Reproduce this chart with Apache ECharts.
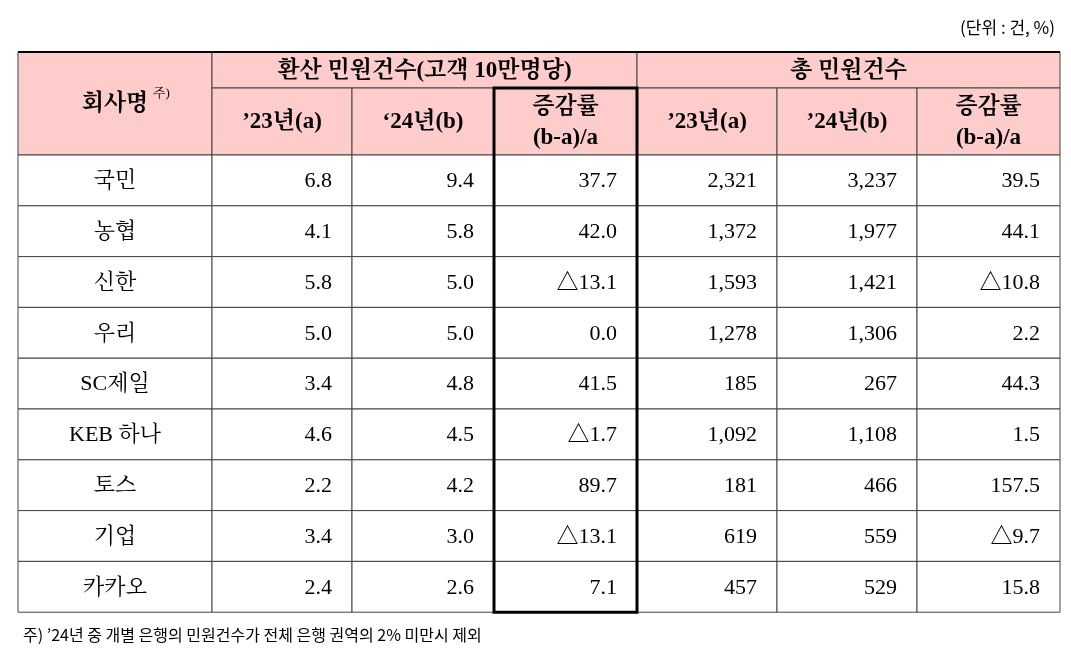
<!DOCTYPE html><html><head><meta charset="utf-8">
<script src="https://cdn.jsdelivr.net/npm/echarts@6/dist/echarts.min.js"></script>
<style>html,body{margin:0;padding:0;background:#fff}#c{width:1071px;height:648px}</style></head><body><div id="c"></div>
<script>
const companies=['국민','농협','신한','우리','SC제일','KEB 하나','토스','기업','카카오'];
const conv23=['6.8','4.1','5.8','5.0','3.4','4.6','2.2','3.4','2.4'];
const conv24=['9.4','5.8','5.0','5.0','4.8','4.5','4.2','3.0','2.6'];
const convRate=['37.7','42.0','△13.1','0.0','41.5','△1.7','89.7','△13.1','7.1'];
const tot23=['2,321','1,372','1,593','1,278','185','1,092','181','619','457'];
const tot24=['3,237','1,977','1,421','1,306','267','1,108','466','559','529'];
const totRate=['39.5','44.1','△10.8','2.2','44.3','1.5','157.5','△9.7','15.8'];
const headGroup=['환산 민원건수(고객 10만명당)','총 민원건수'];
const headSub=["’23년(a)","‘24년(b)",'증감률\n(b-a)/a',"’23년(a)","’24년(b)",'증감률\n(b-a)/a'];

const colEdges=[18,212,352,494,637,777,917,1060];
const hdr=[52,88,155];
const rowH=50.8;
const rowEdge=i=>hdr[2]+i*rowH;
const cols=[conv23,conv24,convRate,tot23,tot24,totRate];
const cells=[];
const pink='#ffcccc';
cells.push({x0:colEdges[0],x1:colEdges[1],y0:hdr[0],y1:hdr[2],t:'회사명',bg:pink,b:1,al:'center',sup:1});
cells.push({x0:colEdges[1],x1:colEdges[4],y0:hdr[0],y1:hdr[1],t:headGroup[0],bg:pink,b:1,al:'center'});
cells.push({x0:colEdges[4],x1:colEdges[7],y0:hdr[0],y1:hdr[1],t:headGroup[1],bg:pink,b:1,al:'center'});
headSub.forEach((h,j)=>cells.push({x0:colEdges[j+1],x1:colEdges[j+2],y0:hdr[1],y1:hdr[2],t:h,bg:pink,b:1,al:'center'}));
companies.forEach((c,i)=>{
  cells.push({x0:colEdges[0],x1:colEdges[1],y0:rowEdge(i),y1:rowEdge(i+1),t:c,bg:'#fff',b:0,al:'center'});
  cols.forEach((arr,j)=>cells.push({x0:colEdges[j+1],x1:colEdges[j+2],y0:rowEdge(i),y1:rowEdge(i+1),t:arr[i],bg:'#fff',b:0,al:'right'}));
});
const data=cells.map(c=>[c.x0,c.x1,c.y0,c.y1]);
const font='"Liberation Serif","Noto Serif CJK KR","Noto Sans CJK KR",serif';
const chart=echarts.init(document.getElementById('c'));
chart.setOption({
  animation:false,
  title:[{text:'(단위 : 건, %)',right:11,top:14,textStyle:{fontSize:17,fontWeight:'normal',color:'#000',fontFamily:'"Noto Sans CJK KR"'}},
         {text:"주) ’24년 중 개별 은행의 민원건수가 전체 은행 권역의 2% 미만시 제외",left:18,top:622,textStyle:{fontSize:16,fontWeight:'normal',color:'#000',fontFamily:'"Noto Sans CJK KR"'}}],
  grid:{left:0,right:0,top:0,bottom:0},
  xAxis:{type:'value',min:0,max:1071,show:false},
  yAxis:{type:'value',min:0,max:648,inverse:true,show:false},
  series:[{type:'custom',data:data,renderItem:(p,api)=>{
    const c=cells[p.dataIndex];
    const a=api.coord([c.x0,c.y0]),b=api.coord([c.x1,c.y1]);
    const ch=[{type:'rect',shape:{x:a[0],y:a[1],width:b[0]-a[0],height:b[1]-a[1]},style:{fill:c.bg,stroke:'#444',lineWidth:1}}];
    const tx=c.al==='center'?(a[0]+b[0])/2:b[0]-20;
    ch.push({type:'text',style:{x:tx,y:(a[1]+b[1])/2+1,text:c.t,align:c.al,verticalAlign:'middle',fontSize:c.b?23:22,lineHeight:31,fontWeight:c.b?'bold':'normal',fill:'#000',fontFamily:font}});
    if(c.sup) ch.push({type:'text',style:{x:tx+38,y:(a[1]+b[1])/2-10,text:'주)',align:'left',verticalAlign:'middle',fontSize:13,fill:'#000',fontFamily:font}});
    return {type:'group',children:ch};
  }},
  {type:'custom',data:[[colEdges[3],colEdges[4],hdr[1],rowEdge(9)]],z:5,renderItem:(p,api)=>{
    const a=api.coord([api.value(0),api.value(2)]),b=api.coord([api.value(1),api.value(3)]);
    return {type:'rect',shape:{x:a[0],y:a[1],width:b[0]-a[0],height:b[1]-a[1]},style:{fill:'none',stroke:'#000',lineWidth:3}};
  }},
  {type:'custom',data:[[colEdges[0],colEdges[7],hdr[0]]],z:5,renderItem:(p,api)=>{
    const a=api.coord([api.value(0),api.value(2)]),b=api.coord([api.value(1),api.value(2)]);
    return {type:'line',shape:{x1:a[0],y1:a[1],x2:b[0],y2:b[1]},style:{stroke:'#000',lineWidth:2}};
  }}]
});
</script></body></html>
